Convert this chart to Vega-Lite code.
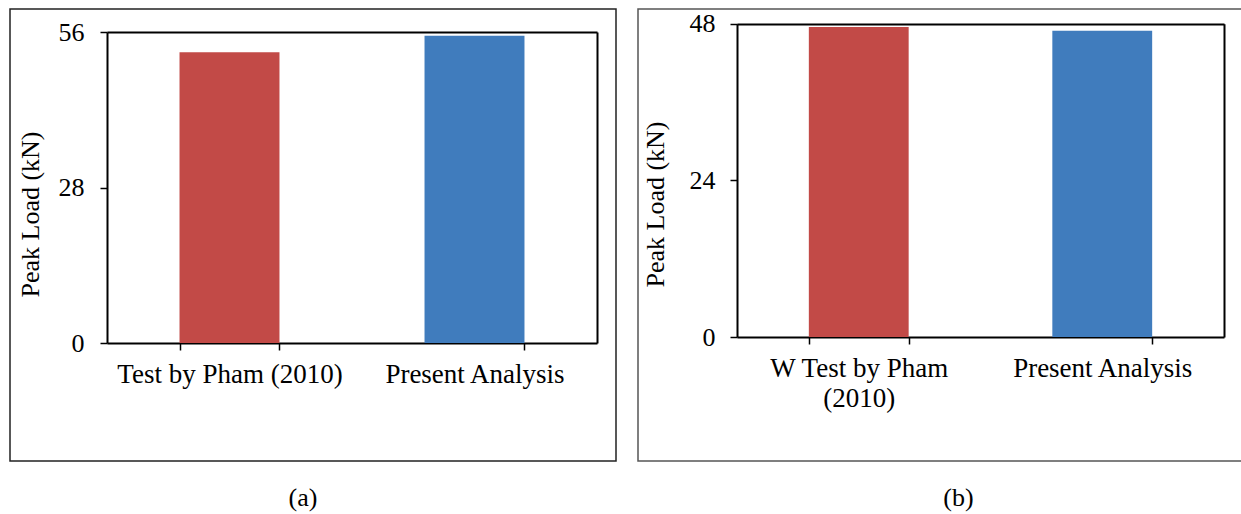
{
  "$schema": "https://vega.github.io/schema/vega-lite/v6.json",
  "padding": {"left": 9, "top": 8, "right": 0, "bottom": 0},
  "autosize": {"type": "pad"},
  "background": "white",
  "spacing": 20,
  "config": {
    "font": "Liberation Serif",
    "axis": {
      "labelFont": "Liberation Serif",
      "titleFont": "Liberation Serif",
      "labelColor": "black",
      "titleColor": "black",
      "tickColor": "black",
      "domainColor": "black",
      "grid": false,
      "labelFontSize": 26,
      "titleFontSize": 26,
      "titleFontWeight": "normal",
      "domainWidth": 2,
      "tickWidth": 1.5
    },
    "title": {"font": "Liberation Serif", "fontSize": 26, "fontWeight": "normal", "color": "black"}
  },
  "datasets": {
    "panelA": [
      {"source": "Test by Pham (2010)", "load": 52.35},
      {"source": "Present Analysis", "load": 55.33}
    ],
    "panelB": [
      {"source": "W Test by Pham (2010)", "load": 47.5},
      {"source": "Present Analysis", "load": 46.93}
    ]
  },
  "resolve": {"scale": {"color": "independent", "x": "independent", "y": "independent"}},
  "hconcat": [
    {
      "width": 606,
      "height": 452,
      "view": {"stroke": "#222222", "strokeWidth": 1.5},
      "title": {"text": "(a)", "orient": "bottom", "offset": 24, "dx": -10, "anchor": "middle"},
      "data": {"name": "panelA"},
      "layer": [
        {
          "mark": {"type": "bar"},
          "encoding": {
            "x": {
              "field": "source", "type": "nominal", "sort": null,
              "scale": {"range": [97, 587], "paddingInner": 0.592, "paddingOuter": 0.296},
              "axis": {"orient": "bottom", "offset": -118, "title": null, "labelAngle": 0, "labelFontSize": 27, "tickBand": "extent", "tickSize": 7, "labelPadding": 11, "labelLimit": 400, "minExtent": 0}
            },
            "y": {
              "field": "load", "type": "quantitative",
              "scale": {"domain": [0, 56], "range": [334, 23], "nice": false},
              "axis": {"orient": "left", "offset": -97, "values": [0, 28, 56], "tickSize": 7, "labelPadding": 16, "title": "Peak Load (kN)", "titleX": -64, "titleY": 205, "minExtent": 0}
            },
            "color": {"field": "source", "type": "nominal", "sort": null, "scale": {"range": ["#C24A47", "#407CBD"]}, "legend": null}
          }
        },
        {
          "mark": {"type": "bar", "opacity": 0},
          "encoding": {
            "x": {"field": "source", "type": "nominal", "sort": null, "axis": {"orient": "top", "offset": -23, "ticks": false, "labels": false, "title": null, "minExtent": 0, "maxExtent": 0}},
            "y": {"field": "load", "type": "quantitative", "axis": {"orient": "right", "offset": -19, "ticks": false, "labels": false, "title": null, "minExtent": 0, "maxExtent": 0}}
          }
        }
      ],
      "resolve": {"axis": {"x": "independent", "y": "independent"}}
    },
    {
      "width": 605,
      "height": 452,
      "view": {"stroke": "#555555", "strokeWidth": 1.5},
      "title": {"text": "(b)", "orient": "bottom", "offset": 24, "dx": 18, "anchor": "middle"},
      "data": {"name": "panelB"},
      "layer": [
        {
          "mark": {"type": "bar"},
          "encoding": {
            "x": {
              "field": "source", "type": "nominal", "sort": null,
              "scale": {"range": [99, 586], "paddingInner": 0.59, "paddingOuter": 0.295},
              "axis": {"orient": "bottom", "offset": -124, "title": null, "labelAngle": 0, "labelFontSize": 27, "tickBand": "extent", "tickSize": 7, "labelPadding": 11, "labelLimit": 400, "labelLineHeight": 30, "minExtent": 0,
                "labelExpr": "datum.label == 'W Test by Pham (2010)' ? ['W Test by Pham', '(2010)'] : datum.label"}
            },
            "y": {
              "field": "load", "type": "quantitative",
              "scale": {"domain": [0, 48], "range": [328, 14.7], "nice": false},
              "axis": {"orient": "left", "offset": -99, "values": [0, 24, 48], "tickSize": 7, "labelPadding": 15, "title": "Peak Load (kN)", "titleX": -69, "titleY": 195, "minExtent": 0}
            },
            "color": {"field": "source", "type": "nominal", "sort": null, "scale": {"range": ["#C24A47", "#407CBD"]}, "legend": null}
          }
        },
        {
          "mark": {"type": "bar", "opacity": 0},
          "encoding": {
            "x": {"field": "source", "type": "nominal", "sort": null, "axis": {"orient": "top", "offset": -15, "ticks": false, "labels": false, "title": null, "minExtent": 0, "maxExtent": 0}},
            "y": {"field": "load", "type": "quantitative", "axis": {"orient": "right", "offset": -19, "ticks": false, "labels": false, "title": null, "minExtent": 0, "maxExtent": 0}}
          }
        }
      ],
      "resolve": {"axis": {"x": "independent", "y": "independent"}}
    }
  ]
}
